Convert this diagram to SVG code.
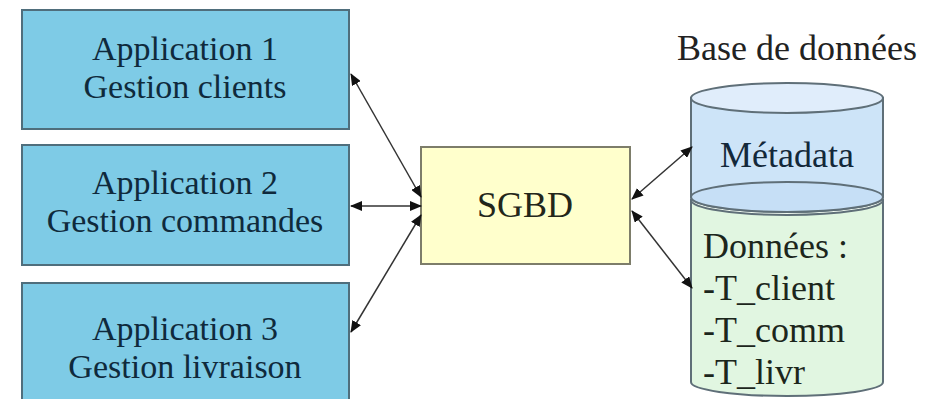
<svg xmlns="http://www.w3.org/2000/svg" width="941" height="399" viewBox="0 0 941 399">
<style>
.app{fill:#7ecbe6;stroke:#4f6e7c;stroke-width:2}
.sgbd{fill:#ffffcc;stroke:#7d7d6a;stroke-width:2}
text{font-family:'Liberation Serif','Times New Roman','DejaVu Serif',serif}
.t{font-size:34px;fill:#0f2a3c;text-anchor:middle}
.tl{font-size:36px;fill:#1c261c}
.cyl{stroke:#5f6f78;stroke-width:2}
.c{stroke:#333;stroke-width:1.5;fill:none;marker-start:url(#a);marker-end:url(#a)}
</style>
<defs>
<marker id="a" viewBox="0 0 12 10" refX="11" refY="5" markerWidth="12" markerHeight="10" markerUnits="userSpaceOnUse" orient="auto-start-reverse">
<path d="M0,0 L12,5 L0,10 Z" fill="#111"/>
</marker>
</defs>
<rect width="941" height="399" fill="#ffffff"/>
<g id="app1">
<rect class="app" x="22" y="10" width="327" height="119"/>
<text class="t" x="185" y="60">Application 1</text>
<text class="t" x="185" y="98">Gestion clients</text>
</g>
<g id="app2">
<rect class="app" x="22" y="145" width="327" height="120"/>
<text class="t" x="185" y="194">Application 2</text>
<text class="t" x="185" y="232">Gestion commandes</text>
</g>
<g id="app3">
<rect class="app" x="22" y="283" width="327" height="125"/>
<text class="t" x="185" y="340">Application 3</text>
<text class="t" x="185" y="378">Gestion livraison</text>
</g>
<g id="sgbd">
<rect class="sgbd" x="421" y="147" width="209" height="117"/>
<text class="t" x="525" y="217" style="fill:#23261a;font-size:36px">SGBD</text>
</g>
<g id="bdd">
<text class="tl" x="677" y="60" style="fill:#222">Base de données</text>
<path class="cyl" d="M691,200 L691,382 A96,14 0 0 0 883,382 L883,200 Z" fill="#e1f6e1"/>
<path class="cyl" d="M691,200 A96,15 0 0 0 883,200" fill="#f2fbf2"/>
<path class="cyl" d="M691,98 L691,197 A96,15 0 0 0 883,197 L883,98 Z" fill="#cde4f8"/>
<ellipse class="cyl" cx="787" cy="197" rx="96" ry="15" fill="#c6dff6"/>
<ellipse class="cyl" cx="787" cy="98" rx="96" ry="15" fill="#e0edfb"/>
<text class="t" x="787" y="167" style="fill:#13283a;font-size:36px">Métadata</text>
<text class="tl" x="703" y="258">Données :</text>
<text class="tl" x="703" y="300">-T_client</text>
<text class="tl" x="703" y="342">-T_comm</text>
<text class="tl" x="703" y="384">-T_livr</text>
</g>
<g id="connectors">
<line class="c" x1="351" y1="74" x2="421" y2="197"/>
<line class="c" x1="351" y1="206" x2="421" y2="206"/>
<line class="c" x1="351" y1="332" x2="421" y2="215"/>
<line class="c" x1="632" y1="199" x2="692" y2="147"/>
<line class="c" x1="632" y1="211" x2="692" y2="288"/>
</g>
</svg>
